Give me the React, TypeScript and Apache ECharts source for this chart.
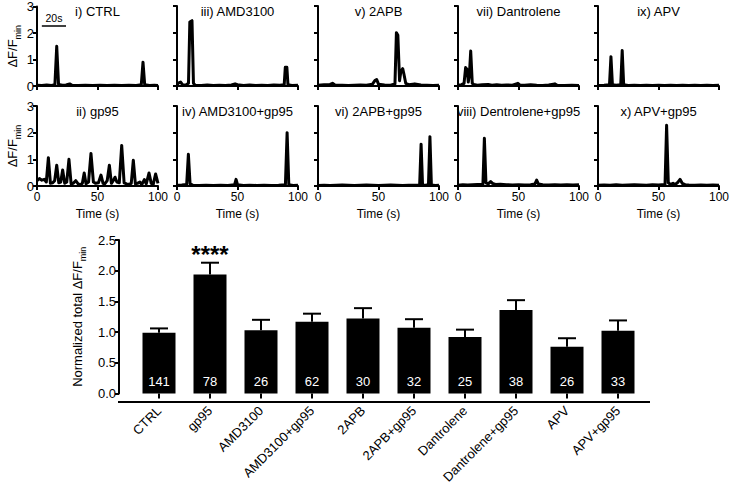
import React, { useEffect, useRef } from 'react';
import * as echarts from 'echarts';

const FONT = '"Liberation Sans", Arial, Helvetica, sans-serif';

// ---------- trace panels ----------
const panelTitles = [
  'i) CTRL', 'iii) AMD3100', 'v) 2APB', 'vii) Dantrolene', 'ix) APV',
  'ii) gp95', 'iv) AMD3100+gp95', 'vi) 2APB+gp95', 'viii) Dentrolene+gp95', 'x) APV+gp95',
];

const traceCtrl = [[0,0.03],[4,0.02],[8,0.04],[12,0.02],[14.8,0.05],[16.3,1.5],[17.8,0.06],[21,0.03],[24,0.04],[27,0.08],[29,0.03],[34,0.02],[40,0.03],[46,0.02],[52,0.03],[58,0.02],[64,0.03],[70,0.02],[76,0.03],[82,0.02],[86.2,0.05],[87.6,0.9],[89,0.05],[93,0.02],[97,0.03],[100,0.02]];
const traceAmd = [[0,0.05],[1.5,0.12],[3,0.15],[4.5,0.05],[7,0.03],[9.5,0.1],[10.6,2.4],[12.4,2.45],[13.6,0.1],[15,0.03],[20,0.02],[25,0.04],[30,0.02],[35,0.03],[40,0.02],[45,0.04],[48,0.08],[50,0.05],[55,0.02],[60,0.04],[65,0.02],[70,0.03],[75,0.02],[80,0.04],[85,0.03],[88.6,0.05],[89.5,0.7],[90.8,0.7],[91.7,0.05],[95,0.02],[100,0.03]];
const trace2apb = [[0,0.03],[5,0.05],[10,0.06],[12,0.1],[14,0.04],[20,0.03],[25,0.02],[30,0.03],[35,0.04],[40,0.03],[45,0.07],[47,0.2],[48.5,0.24],[50,0.07],[55,0.04],[60,0.03],[63.6,0.08],[64.8,2.0],[66,1.9],[67.4,0.2],[68.5,0.55],[70,0.65],[71,0.45],[72.5,0.1],[75,0.05],[80,0.08],[85,0.04],[90,0.03],[95,0.02],[100,0.03]];
const traceDan = [[0,0.03],[3,0.05],[5,0.1],[6.3,0.69],[7.6,0.62],[8.5,0.15],[9.4,0.4],[10.5,1.31],[11.8,0.1],[13,0.06],[16,0.03],[20,0.05],[25,0.06],[28,0.03],[32,0.05],[36,0.03],[40,0.04],[45,0.03],[49.5,0.1],[51,0.04],[55,0.03],[60,0.05],[65,0.03],[70,0.02],[75,0.04],[80,0.08],[82,0.03],[88,0.02],[94,0.03],[100,0.02]];
const traceApv = [[0,0.02],[5,0.03],[9.5,0.05],[10.7,1.1],[11.9,0.05],[15,0.03],[18.8,0.05],[20,1.33],[21.2,0.05],[25,0.02],[30,0.03],[35,0.02],[40,0.03],[45,0.02],[50,0.03],[55,0.02],[60,0.03],[65,0.02],[70,0.03],[75,0.02],[80,0.03],[85,0.02],[90,0.03],[95,0.02],[100,0.03]];
const traceGp95 = [[0,0.2],[2,0.28],[4,0.22],[6,0.25],[7.7,0.15],[9.4,1.06],[11.1,0.1],[13,0.12],[14.6,0.2],[16.3,0.78],[18,0.12],[19.6,0.15],[21.2,0.6],[22.9,0.1],[24.6,0.15],[26.4,1.0],[28.2,0.08],[30,0.1],[32,0.2],[34,0.08],[36,0.05],[37.5,0.1],[39,0.49],[40.5,0.08],[42.6,0.15],[44.6,1.22],[46.6,0.15],[48.5,0.1],[50.8,0.12],[52.9,0.41],[54.6,0.1],[56,0.08],[58,0.2],[59.8,0.78],[61.5,0.1],[63,0.2],[64.5,0.33],[66,0.15],[68,0.12],[70,1.52],[72,0.12],[74,0.08],[76,0.06],[77.9,0.1],[79.6,0.97],[81.3,0.08],[83,0.1],[85,0.15],[86.6,0.05],[88.7,0.24],[90.3,0.08],[92.6,0.49],[94.4,0.1],[96,0.05],[98,0.45],[100,0.1]];
const traceAmdGp = [[0,0.03],[4,0.04],[8,0.06],[9.4,1.19],[10.8,0.08],[13,0.03],[18,0.02],[24,0.03],[30,0.02],[36,0.03],[42,0.02],[47.6,0.05],[48.8,0.25],[50,0.05],[55,0.02],[60,0.03],[66,0.02],[72,0.03],[78,0.02],[84,0.03],[89.6,0.05],[91,2.0],[92.4,0.05],[96,0.02],[100,0.03]];
const trace2apbGp = [[0,0.02],[5,0.03],[10,0.02],[15,0.03],[20,0.04],[25,0.03],[30,0.02],[35,0.03],[40,0.04],[45,0.03],[50,0.02],[55,0.03],[60,0.04],[65,0.03],[70,0.02],[75,0.03],[80,0.03],[84,0.04],[85.2,1.57],[86.4,0.04],[89,0.03],[91.3,0.05],[92.5,1.85],[93.7,0.04],[97,0.02],[100,0.03]];
const traceDanGp = [[0,0.03],[4,0.05],[8,0.04],[12,0.05],[16,0.06],[20.6,0.07],[21.8,1.79],[23.1,0.12],[25,0.08],[27,0.17],[28.5,0.1],[31,0.06],[35,0.07],[40,0.05],[45,0.04],[50,0.05],[55,0.04],[60,0.05],[63.6,0.08],[65,0.22],[66.4,0.08],[70,0.05],[75,0.04],[80,0.05],[85,0.04],[90,0.05],[95,0.04],[100,0.05]];
const traceApvGp = [[0,0.03],[5,0.04],[10,0.03],[15,0.05],[20,0.03],[25,0.04],[30,0.05],[35,0.04],[40,0.03],[45,0.05],[50,0.04],[55.4,0.06],[56.7,2.28],[58.1,0.12],[60,0.06],[62,0.1],[63.5,0.05],[65.6,0.12],[67.8,0.25],[69.6,0.1],[72,0.05],[75,0.04],[80,0.03],[85,0.04],[90,0.03],[95,0.04],[100,0.03]];

const traceList = [traceCtrl, traceAmd, trace2apb, traceDan, traceApv, traceGp95, traceAmdGp, trace2apbGp, traceDanGp, traceApvGp];

const scaleBarStart = 4;
const scaleBarEnd = 24;
const scaleBarLevel = 2.28;

// ---------- bar chart ----------
const barCategories = ['CTRL', 'gp95', 'AMD3100', 'AMD3100+gp95', '2APB', '2APB+gp95', 'Dantrolene', 'Dantrolene+gp95', 'APV', 'APV+gp95'];
const barMeans = [0.99, 1.94, 1.03, 1.17, 1.22, 1.07, 0.92, 1.36, 0.76, 1.02];
const barSem = [0.07, 0.19, 0.17, 0.13, 0.17, 0.14, 0.12, 0.16, 0.14, 0.17];
const barN = [141, 78, 26, 62, 30, 32, 25, 38, 26, 33];
const barSig = ['', '****', '', '', '', '', '', '', '', ''];

// ---------- layout ----------
const COL_LEFT = [37, 177, 318, 458, 598];
const ROW_TOP = [6, 106];
const PW = 121;
const PH = 80;
const BAR_AXIS_X = 119;
const BAR_GRID = { left: 133.5, top: 240, width: 510, height: 162 };
const BAR_AXIS_END = 650;

const black = '#000';

function buildOption() {
  const grids: any[] = [];
  const xAxes: any[] = [];
  const yAxes: any[] = [];
  const series: any[] = [];
  const graphics: any[] = [];

  traceList.forEach((trace, i) => {
    const row = i < 5 ? 0 : 1;
    const col = i % 5;
    grids.push({ left: COL_LEFT[col], top: ROW_TOP[row], width: PW, height: PH, containLabel: false });
    xAxes.push({
      gridIndex: i, type: 'value', min: 0, max: 100, interval: 50,
      axisLine: { show: true, onZero: false, lineStyle: { color: black, width: 2 } },
      axisTick: { show: true, length: 4, lineStyle: { color: black, width: 2 } },
      axisLabel: { show: row === 1, color: black, fontSize: 12, margin: 5, fontFamily: FONT },
      splitLine: { show: false },
      name: row === 1 ? 'Time (s)' : '',
      nameLocation: 'middle', nameGap: 22,
      nameTextStyle: { color: black, fontSize: 12, fontFamily: FONT },
    });
    yAxes.push({
      gridIndex: i, type: 'value', min: 0, max: 3, interval: 1,
      axisLine: { show: true, lineStyle: { color: black, width: 2 } },
      axisTick: { show: true, length: 4, lineStyle: { color: black, width: 2 } },
      axisLabel: { show: col === 0, color: black, fontSize: 13, margin: 3, fontFamily: FONT },
      splitLine: { show: false },
      name: col === 0 ? '{a|ΔF/F}{b|min}' : '',
      nameLocation: 'middle', nameGap: 15,
      nameTextStyle: {
        color: black,
        rich: {
          a: { fontSize: 13, color: black, fontFamily: FONT, verticalAlign: 'bottom', padding: [0, 0, 3, 0] },
          b: { fontSize: 9, color: black, fontFamily: FONT, verticalAlign: 'bottom' },
        },
      },
    });
    const s: any = {
      type: 'line', xAxisIndex: i, yAxisIndex: i, data: trace,
      symbol: 'none', showSymbol: false,
      lineStyle: { color: black, width: 3, join: 'round' },
      z: 3,
    };
    if (i === 0) {
      s.markLine = {
        silent: true, symbol: ['none', 'none'],
        lineStyle: { color: black, width: 1.5, type: 'solid' },
        label: { show: true, position: 'insideMiddleTop', formatter: '20s', color: black, fontSize: 10.5, distance: 2, fontFamily: FONT },
        data: [[{ coord: [scaleBarStart, scaleBarLevel] }, { coord: [scaleBarEnd, scaleBarLevel] }]],
      };
    }
    series.push(s);
    graphics.push({
      type: 'text',
      x: COL_LEFT[col] + PW / 2,
      y: ROW_TOP[row] + 5.5,
      style: { text: panelTitles[i], fill: black, font: `13px ${FONT}`, align: 'center', verticalAlign: 'middle' },
    });
  });

  const bi = traceList.length;
  grids.push({ ...BAR_GRID, containLabel: false });
  xAxes.push({
    gridIndex: bi, type: 'category', data: barCategories,
    axisLine: { show: false },
    axisTick: { show: true, alignWithLabel: true, length: 5, lineStyle: { color: black, width: 2 } },
    axisLabel: { rotate: 45, interval: 0, color: black, fontSize: 13, margin: 15, fontFamily: FONT },
    splitLine: { show: false },
  });
  yAxes.push({
    gridIndex: bi, type: 'value', min: 0, max: 2.5, interval: 0.5, offset: BAR_GRID.left - BAR_AXIS_X,
    axisLine: { show: true, lineStyle: { color: black, width: 2 } },
    axisTick: { show: true, length: 4, lineStyle: { color: black, width: 2 } },
    axisLabel: { color: black, fontSize: 13, margin: 3, fontFamily: FONT, formatter: (v: number) => v.toFixed(1) },
    splitLine: { show: false },
    name: '{a|Normalized total ΔF/F}{b|min}',
    nameLocation: 'middle', nameGap: 27,
    nameTextStyle: {
      color: black,
      rich: {
        a: { fontSize: 13, color: black, fontFamily: FONT, verticalAlign: 'bottom', padding: [0, 0, 3, 0] },
        b: { fontSize: 9, color: black, fontFamily: FONT, verticalAlign: 'bottom' },
      },
    },
  });
  series.push({
    type: 'bar', xAxisIndex: bi, yAxisIndex: bi, data: barMeans, barWidth: 33,
    itemStyle: { color: black },
    label: {
      show: true, position: 'insideBottom', distance: 5, color: '#fff', fontSize: 13, fontFamily: FONT,
      formatter: (p: any) => String(barN[p.dataIndex]),
    },
    z: 2,
  });
  series.push({
    type: 'custom', xAxisIndex: bi, yAxisIndex: bi,
    data: barMeans.map((m, i) => [i, m, barSem[i]]),
    renderItem: (params: any, api: any) => {
      const idx = api.value(0);
      const m = api.value(1);
      const e = api.value(2);
      const base = api.coord([idx, m]);
      const top = api.coord([idx, m + e]);
      const children: any[] = [
        { type: 'line', shape: { x1: base[0], y1: base[1], x2: top[0], y2: top[1] }, style: { stroke: black, lineWidth: 2 } },
        { type: 'line', shape: { x1: top[0] - 9, y1: top[1], x2: top[0] + 9, y2: top[1] }, style: { stroke: black, lineWidth: 2 } },
      ];
      const sig = barSig[params.dataIndex];
      if (sig) {
        children.push({
          type: 'text', x: top[0], y: top[1] + 4,
          style: { text: sig, fill: black, font: `bold 24px ${FONT}`, align: 'center', verticalAlign: 'bottom' },
        });
      }
      return { type: 'group', children };
    },
    z: 3,
  });
  graphics.push({
    type: 'line',
    shape: { x1: BAR_AXIS_X - 1, y1: BAR_GRID.top + BAR_GRID.height, x2: BAR_AXIS_END, y2: BAR_GRID.top + BAR_GRID.height },
    style: { stroke: black, lineWidth: 2 },
    z: 10,
  });

  return {
    animation: false,
    backgroundColor: '#fff',
    textStyle: { fontFamily: FONT },
    grid: grids,
    xAxis: xAxes,
    yAxis: yAxes,
    series,
    graphic: graphics,
  };
}

export default function App() {
  const ref = useRef<HTMLDivElement>(null);
  useEffect(() => {
    if (!ref.current) return;
    const chart = echarts.init(ref.current, undefined, { renderer: 'svg' });
    chart.setOption(buildOption() as any);
    return () => chart.dispose();
  }, []);
  return <div ref={ref} style={{ position: 'fixed', left: 0, top: 0, width: 733, height: 486, background: '#fff' }} />;
}
